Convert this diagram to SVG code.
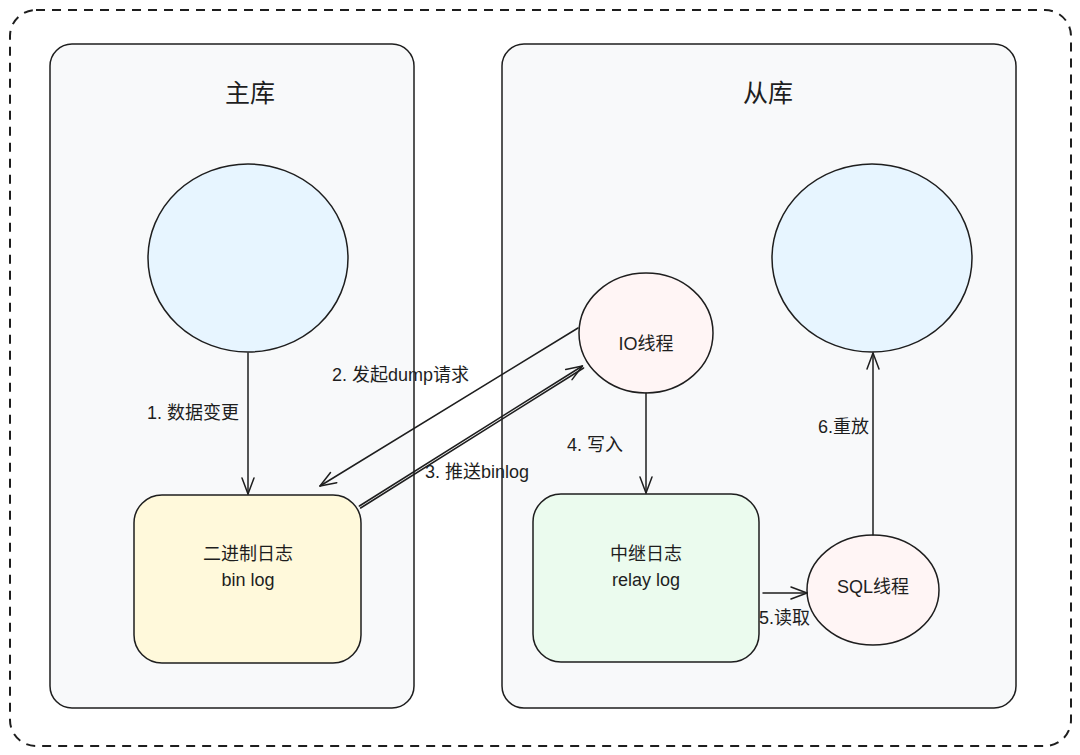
<svg xmlns="http://www.w3.org/2000/svg" width="1080" height="755" viewBox="0 0 1080 755">
<defs>
<style>
.sk{stroke:#1e1e1e;stroke-width:1.5;}
.t{font-family:"Liberation Sans","Noto Sans CJK SC",sans-serif;fill:#1e1e1e;}
.lbl{font-size:18px;}
.ttl{font-size:25px;}
.ln{fill:none;stroke:#1e1e1e;stroke-width:1.5;stroke-linecap:round;}
</style>
<marker id="ah" markerUnits="userSpaceOnUse" markerWidth="30" markerHeight="30" viewBox="-20 -10 30 20" refX="0" refY="0" orient="auto">
<path d="M-16,-6 L0,0 L-16,6" fill="none" stroke="#1e1e1e" stroke-width="1.5" stroke-linecap="round" stroke-linejoin="round"/>
</marker>
</defs>
<rect width="1080" height="755" fill="#ffffff"/>
<g id="frame">
<rect x="10" y="10" width="1061" height="736" rx="26" fill="none" stroke="#1e1e1e" stroke-width="2" stroke-dasharray="9 7"/>
</g>
<g id="master">
<rect x="50" y="44" width="364" height="664" rx="22" fill="#f8f9fa" class="sk"/>
<text class="t ttl" x="250" y="102" text-anchor="middle">主库</text>
</g>
<g id="slave">
<rect x="502" y="44" width="514" height="664" rx="22" fill="#f8f9fa" class="sk"/>
<text class="t ttl" x="768" y="102" text-anchor="middle">从库</text>
</g>
<g id="master-db">
<ellipse cx="248" cy="258" rx="100" ry="94" fill="#e7f5ff" class="sk"/>
</g>
<g id="slave-db">
<ellipse cx="872" cy="258" rx="100" ry="94" fill="#e7f5ff" class="sk"/>
</g>
<g id="binlog">
<rect x="134" y="495" width="227" height="168" rx="28" fill="#fff9db" class="sk"/>
<text class="t lbl" x="248" y="560" text-anchor="middle">二进制日志</text>
<text class="t lbl" x="248" y="586" text-anchor="middle">bin log</text>
</g>
<g id="relaylog">
<rect x="533" y="494" width="226" height="168" rx="28" fill="#ebfbee" class="sk"/>
<text class="t lbl" x="646" y="560" text-anchor="middle">中继日志</text>
<text class="t lbl" x="646" y="586" text-anchor="middle">relay log</text>
</g>
<g id="io-thread">
<ellipse cx="646" cy="333" rx="67" ry="60" fill="#fff5f5" class="sk"/>
<text class="t lbl" x="646" y="350" text-anchor="middle">IO线程</text>
</g>
<g id="sql-thread">
<ellipse cx="873" cy="590" rx="66" ry="55" fill="#fff5f5" class="sk"/>
<text class="t lbl" x="873" y="593" text-anchor="middle">SQL线程</text>
</g>
<g id="connectors">
<line class="ln" x1="248" y1="353" x2="248" y2="494" marker-end="url(#ah)"/>
<line class="ln" x1="578" y1="328" x2="320" y2="486" marker-end="url(#ah)"/>
<line class="ln" x1="360.6" y1="508" x2="583.6" y2="368" stroke-width="1"/>
<line class="ln" x1="359.4" y1="506" x2="582.4" y2="366" stroke-width="1" marker-end="url(#ah)"/>
<line class="ln" x1="646" y1="393" x2="646" y2="493" marker-end="url(#ah)"/>
<line class="ln" x1="763" y1="593" x2="807" y2="593" marker-end="url(#ah)"/>
<line class="ln" x1="873" y1="535" x2="873" y2="353" marker-end="url(#ah)"/>
<text class="t lbl" x="147" y="419">1. 数据变更</text>
<text class="t lbl" x="332" y="381">2. 发起dump请求</text>
<text class="t lbl" x="425" y="478">3. 推送binlog</text>
<text class="t lbl" x="567" y="451">4. 写入</text>
<text class="t lbl" x="759" y="624">5.读取</text>
<text class="t lbl" x="818" y="433">6.重放</text>
</g>
</svg>
